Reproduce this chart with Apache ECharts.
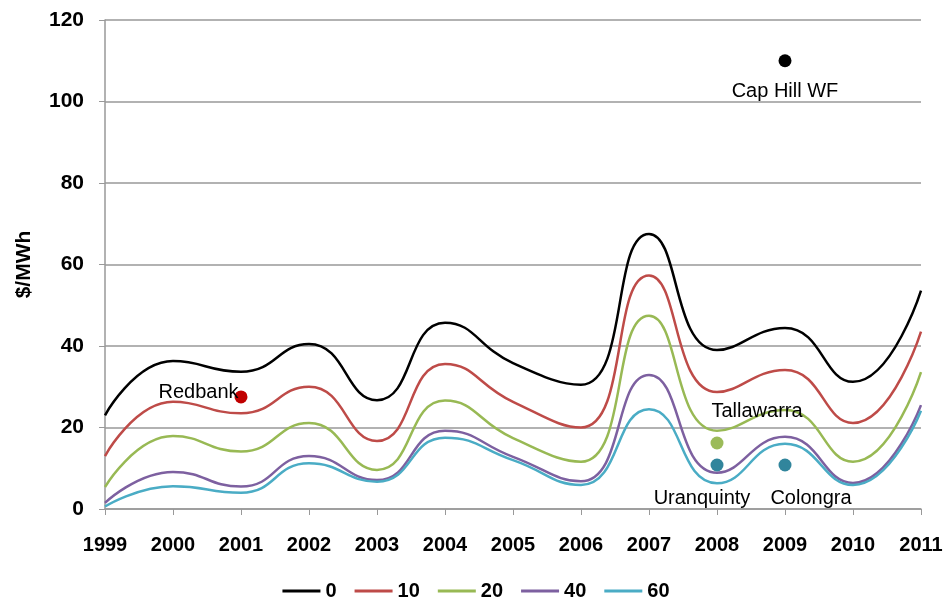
<!DOCTYPE html>
<html>
<head>
<meta charset="utf-8">
<script src="https://cdn.jsdelivr.net/npm/echarts@6/dist/echarts.min.js"></script>
<style>
html,body{margin:0;padding:0;background:#fff;}
#chart{width:952px;height:608px;}
</style>
</head>
<body>
<div id="chart"></div>
<script>
const years = ['1999','2000','2001','2002','2003','2004','2005','2006','2007','2008','2009','2010','2011'];
const seriesNames = ['0','10','20','40','60'];
const s0  = [23, 36.3, 33.7, 40.5, 26.7, 45.7, 35.8, 30.5, 67.5, 39, 44.4, 31.2, 53.6];
const s10 = [13, 26.3, 23.5, 30, 16.7, 35.6, 26.3, 20, 57.3, 28.7, 34.1, 21.1, 43.5];
const s20 = [5.4, 17.9, 14.1, 21.1, 9.6, 26.6, 17.4, 11.6, 47.4, 19.2, 24.3, 11.6, 33.6];
const s40 = [1.5, 9.1, 5.5, 13, 7.1, 19.2, 12.8, 6.8, 32.9, 8.9, 17.7, 6.4, 25.5];
const s60 = [0.6, 5.6, 4, 11.2, 6.7, 17.5, 12, 5.9, 24.5, 6.3, 16, 5.9, 24.1];
const plantNames = ['Redbank','Cap Hill WF','Tallawarra','Uranquinty','Colongra'];
const plantYears = ['2001','2009','2008','2008','2009'];
const plantValues = [27.5, 110, 16.2, 10.8, 10.8];
const yTicks = [0, 20, 40, 60, 80, 100, 120];

const FONT = 'Liberation Sans, Arial, sans-serif';
const lineColors = ['#000000','#be4b48','#98b954','#7d60a0','#4aacc5'];
const lineData = [s0, s10, s20, s40, s60];
const plantColors = ['#c00000','#000000','#9bbb59','#31859c','#31859c'];
const plantLabelPos = ['left','bottom','top','bottom','bottom'];
const plantLabelOffset = [[-2,-4],[0,9],[40,-10],[-15,12],[26,12]];

const chart = echarts.init(document.getElementById('chart'), null, {renderer:'canvas'});
const series = [];
seriesNames.forEach((n,i)=>{
  series.push({
    name:n, type:'line', data:lineData[i], smooth:0.5, symbol:'none',
    lineStyle:{color:lineColors[i], width:2.5}, itemStyle:{color:lineColors[i]}, z:2
  });
});
plantNames.forEach((n,i)=>{
  series.push({
    name:n, type:'scatter', data:[[plantYears[i], plantValues[i]]],
    symbolSize:13, itemStyle:{color:plantColors[i], opacity:1}, z:3,
    label:{show:true, formatter:n, position:plantLabelPos[i], offset:plantLabelOffset[i],
      distance:(i===0?-6:5),
      fontFamily:FONT, fontSize:20, color:'#000'}
  });
});

chart.setOption({
  animation:false,
  backgroundColor:'#fff',
  grid:{left:105, right:31, top:20, bottom:99, containLabel:false},
  legend:{
    data:seriesNames, bottom:2, left:'center', icon:'rect', itemWidth:38, itemHeight:3, itemGap:18,
    textStyle:{fontFamily:FONT, fontWeight:'bold', fontSize:20, color:'#000'}
  },
  xAxis:{
    type:'category', data:years, boundaryGap:false,
    axisLine:{lineStyle:{color:'#999', width:1.5}},
    axisTick:{show:true, length:6, inside:false, alignWithLabel:true, lineStyle:{color:'#999'}},
    axisLabel:{margin:26, fontFamily:FONT, fontWeight:'bold', fontSize:20, color:'#000'},
    splitLine:{show:false}
  },
  yAxis:{
    type:'value', min:0, max:120, interval:20,
    name:'$/MWh', nameLocation:'middle', nameGap:70, nameRotate:90,
    nameTextStyle:{fontFamily:FONT, fontWeight:'bold', fontSize:21, color:'#000'},
    axisLine:{show:true, lineStyle:{color:'#999', width:1.5}},
    axisTick:{show:true, length:6, lineStyle:{color:'#999'}},
    axisLabel:{margin:21, fontFamily:FONT, fontWeight:'bold', fontSize:21, color:'#000',
      formatter:v=>yTicks.includes(v)?String(v):''},
    splitLine:{show:true, lineStyle:{color:'#999', width:1.5}}
  },
  series:series
});
</script>
</body>
</html>
